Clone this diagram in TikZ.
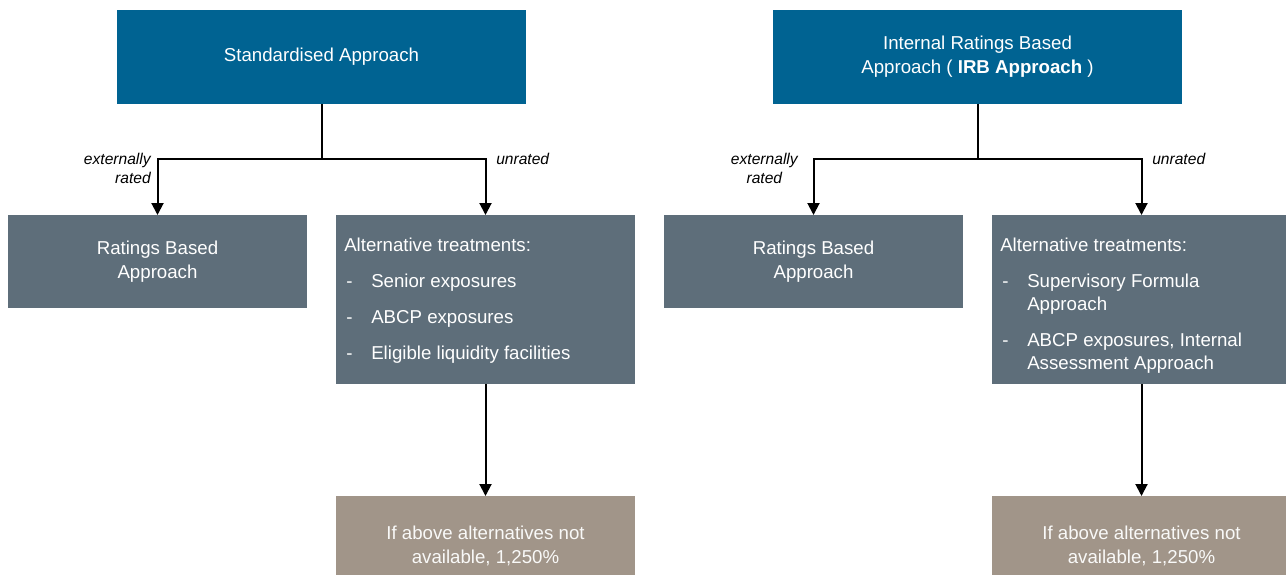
\documentclass[tikz,border=0pt]{standalone}
\usepackage{fontspec}
\setmainfont{Liberation Sans}
\usetikzlibrary{arrows.meta}
\definecolor{apprblue}{RGB}{0,99,146}
\definecolor{treatgrey}{RGB}{94,110,122}
\definecolor{fallbrown}{RGB}{161,149,137}
\newcommand{\listdash}{\makebox[20.25pt][l]{\hspace{1.5pt}-}}
\newcommand{\listgap}{\hspace*{20.25pt}}

\begin{document}
\begin{tikzpicture}[x=0.75pt,y=0.75pt,yscale=-1,xscale=1,
  apprbox/.style={fill=apprblue,text=white,minimum width=306.75pt,minimum height=70.5pt,inner sep=0pt,outer sep=0pt,align=center,font=\fontsize{14}{18}\selectfont},
  treatbox/.style={fill=treatgrey,text=white,minimum width=224.25pt,inner sep=0pt,outer sep=0pt,align=center,font=\fontsize{14}{18}\selectfont},
  fallbox/.style={fill=fallbrown,minimum width=224.25pt,minimum height=59.25pt,inner sep=0pt,outer sep=0pt},
  boxtext/.style={inner sep=0pt,align=left,text=white,font=\fontsize{14}{17}\selectfont},
  falltext/.style={inner sep=0pt,align=center,text=white!94!fallbrown,font=\fontsize{14}{18}\selectfont},
  branch/.style={inner sep=0pt,font=\fontsize{11.7}{13.8}\selectfont\itshape},
  stem/.style={line width=1.5pt},
  flow/.style={line width=1.5pt,-{Triangle[width=9pt,length=9pt]}}]
\useasboundingbox (0,0) rectangle (1286,585);
\clip (0,0) rectangle (1286,585);

%Shape: Rectangle
\node[apprbox] (std) at (321.5,57) {Standardised Approach};
%Shape: Rectangle
\node[apprbox] (irb) at (977.5,57) {Internal Ratings Based\\Approach ( \textbf{IRB Approach} )};

%Shape: Rectangle
\node[treatbox,minimum height=69.75pt] (rbaL) at (157.5,261.5) {Ratings Based\\Approach};
%Shape: Rectangle
\node[treatbox,minimum height=126.75pt] (altL) at (485.5,299.5) {};
%Shape: Rectangle
\node[treatbox,minimum height=69.75pt] (rbaR) at (813.5,261.5) {Ratings Based\\Approach};
%Shape: Rectangle
\node[treatbox,minimum height=126.75pt] (altR) at (1141.5,299.5) {};

%Shape: Rectangle
\node[fallbox] (lowL) at (485.5,535.5) {};
%Shape: Rectangle
\node[fallbox] (lowR) at (1141.5,535.5) {};

% Text Node
\node[boxtext,anchor=north west] (altLtxt) at (344,238) {Alternative treatments:\\[10pt]\listdash Senior exposures\\[10pt]\listdash ABCP exposures\\[10pt]\listdash Eligible liquidity facilities};
% Text Node
\node[boxtext,anchor=north west] (altRtxt) at (1000,238) {Alternative treatments:\\[10pt]\listdash Supervisory Formula\\\listgap Approach\\[10pt]\listdash ABCP exposures, Internal\\\listgap Assessment Approach};
% Text Node
\node[falltext] (lowLtxt) at (485.5,545.5) {If above alternatives not\\available, 1,250\%};
% Text Node
\node[falltext] (lowRtxt) at (1141.5,545.5) {If above alternatives not\\available, 1,250\%};

\coordinate (stdfork) at (321.5,159);
\coordinate (irbfork) at (977.5,159);

%Straight Lines
\draw[stem] (std.south) -- (stdfork);
\draw[flow] (stdfork) -| (rbaL.north);
\draw[flow] (stdfork) -| (altL.north);
\draw[flow] (altL.south) -- (lowL.north);
%Straight Lines
\draw[stem] (irb.south) -- (irbfork);
\draw[flow] (irbfork) -| (rbaR.north);
\draw[flow] (irbfork) -| (altR.north);
\draw[flow] (altR.south) -- (lowR.north);

% Text Node
\node[branch,anchor=east,align=right] (extL) at (151,168.5) {externally\\rated};
% Text Node
\node[branch,anchor=west] (unrL) at (496,159) {unrated};
% Text Node
\node[branch,anchor=east,align=center] (extR) at (798,168.5) {externally\\rated};
% Text Node
\node[branch,anchor=west] (unrR) at (1152,159) {unrated};

\end{tikzpicture}
\end{document}
